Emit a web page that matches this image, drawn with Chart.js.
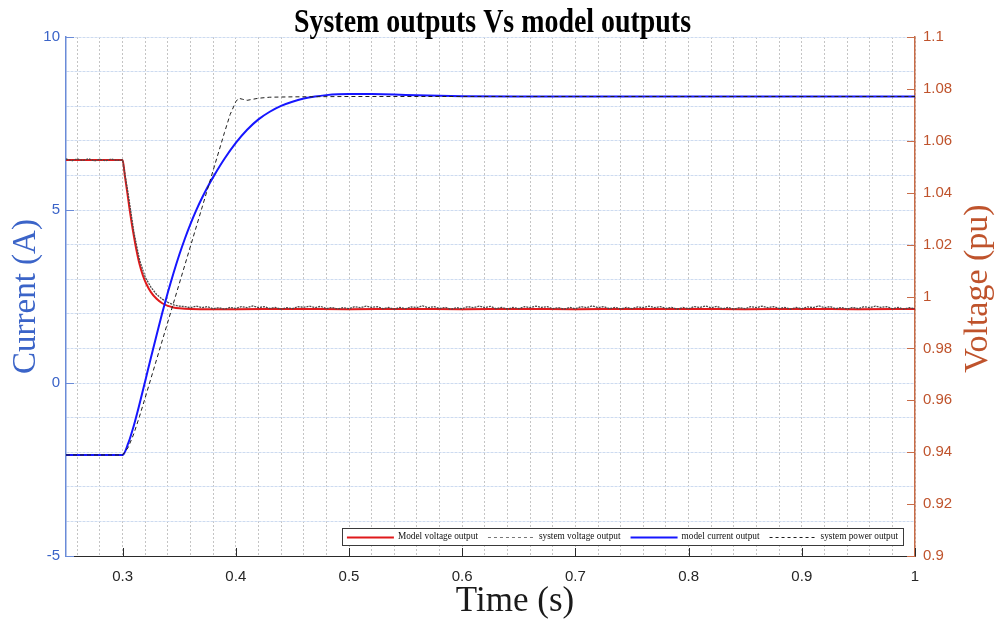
<!DOCTYPE html>
<html><head><meta charset="utf-8">
<script src="https://cdn.jsdelivr.net/npm/chart.js@4.4.0/dist/chart.umd.min.js"></script>
<style>html,body{margin:0;padding:0;background:#fff;overflow:hidden}canvas{display:block}</style>
</head><body>
<canvas id="c" width="995" height="619"></canvas>
<script>
// ---------- DATA ----------
const chartTitle = 'System outputs Vs model outputs';
const xTitle = 'Time (s)';
const yLeftTitle = 'Current (A)';
const yRightTitle = 'Voltage (pu)';
const seriesLabels = ['Model voltage output', 'system voltage output', 'model current output', 'system power output'];

// [time (s), voltage (pu)]
const modelVoltage = [
  [0.25,1.0526],[0.30,1.0526],[0.302,1.0465],[0.304,1.0405],[0.306,1.0342],[0.308,1.0284],[0.310,1.0232],
  [0.312,1.0184],[0.315,1.0124],[0.318,1.0080],[0.321,1.0048],[0.325,1.0017],[0.330,0.9991],[0.335,0.9974],
  [0.340,0.9964],[0.345,0.9958],[0.350,0.9955],[0.360,0.9952],[0.380,0.9951],[0.400,0.9951],[0.45,0.9952],
  [0.50,0.9951],[0.55,0.9952],[0.60,0.9951],[0.65,0.9952],[0.70,0.9951],[0.75,0.9952],[0.80,0.9952],
  [0.85,0.9951],[0.90,0.9952],[0.95,0.9951],[1.00,0.9952]
];

// [time (s), voltage (pu)]  (measured, noisy)
const systemVoltage = [
  [0.250,1.0530],[0.255,1.0523],[0.260,1.0530],[0.265,1.0524],[0.270,1.0531],[0.275,1.0522],[0.280,1.0529],
  [0.285,1.0523],[0.290,1.0530],[0.295,1.0524],[0.300,1.0527],[0.305,1.0392],[0.310,1.0247],[0.315,1.0140],
  [0.320,1.0074],[0.325,1.0036],[0.330,1.0008],[0.335,0.9990],[0.340,0.9977],[0.345,0.9968],[0.350,0.9963],
  [0.355,0.9961],[0.360,0.9957],[0.365,0.9963],[0.370,0.9957],[0.375,0.9961],[0.380,0.9953],[0.385,0.9957],
  [0.390,0.9951],[0.395,0.9958],[0.400,0.9954],[0.405,0.9961],[0.410,0.9957],[0.415,0.9964],[0.420,0.9957],
  [0.425,0.9961],[0.430,0.9954],[0.435,0.9958],[0.440,0.9951],[0.445,0.9957],[0.450,0.9953],[0.455,0.9961],
  [0.460,0.9958],[0.465,0.9963],[0.470,0.9957],[0.475,0.9962],[0.480,0.9953],[0.485,0.9958],[0.490,0.9952],
  [0.495,0.9957],[0.500,0.9953],[0.505,0.9961],[0.510,0.9957],[0.515,0.9963],[0.520,0.9958],[0.525,0.9961],
  [0.530,0.9953],[0.535,0.9958],[0.540,0.9951],[0.545,0.9958],[0.550,0.9953],[0.555,0.9960],[0.560,0.9957],
  [0.565,0.9964],[0.570,0.9957],[0.575,0.9961],[0.580,0.9954],[0.585,0.9958],[0.590,0.9951],[0.595,0.9957],
  [0.600,0.9953],[0.605,0.9961],[0.610,0.9957],[0.615,0.9963],[0.620,0.9957],[0.625,0.9962],[0.630,0.9953],
  [0.635,0.9958],[0.640,0.9952],[0.645,0.9958],[0.650,0.9953],[0.655,0.9961],[0.660,0.9957],[0.665,0.9963],
  [0.670,0.9958],[0.675,0.9961],[0.680,0.9953],[0.685,0.9957],[0.690,0.9951],[0.695,0.9958],[0.700,0.9953],
  [0.705,0.9961],[0.710,0.9957],[0.715,0.9964],[0.720,0.9957],[0.725,0.9961],[0.730,0.9953],[0.735,0.9958],
  [0.740,0.9952],[0.745,0.9958],[0.750,0.9953],[0.755,0.9960],[0.760,0.9957],[0.765,0.9963],[0.770,0.9957],
  [0.775,0.9961],[0.780,0.9954],[0.785,0.9958],[0.790,0.9951],[0.795,0.9958],[0.800,0.9953],[0.805,0.9961],
  [0.810,0.9958],[0.815,0.9963],[0.820,0.9957],[0.825,0.9962],[0.830,0.9953],[0.835,0.9958],[0.840,0.9951],
  [0.845,0.9957],[0.850,0.9953],[0.855,0.9961],[0.860,0.9957],[0.865,0.9963],[0.870,0.9957],[0.875,0.9961],
  [0.880,0.9954],[0.885,0.9958],[0.890,0.9951],[0.895,0.9958],[0.900,0.9953],[0.905,0.9960],[0.910,0.9957],
  [0.915,0.9964],[0.920,0.9957],[0.925,0.9961],[0.930,0.9953],[0.935,0.9958],[0.940,0.9952],[0.945,0.9958],
  [0.950,0.9953],[0.955,0.9961],[0.960,0.9957],[0.965,0.9963],[0.970,0.9958],[0.975,0.9961],[0.980,0.9953],
  [0.985,0.9958],[0.990,0.9951],[0.995,0.9957],[1.000,0.9953]
];

// [time (s), current (A)]
const modelCurrent = [
  [0.25,-2.08],[0.30,-2.08],[0.305,-1.74],[0.31,-1.22],[0.315,-0.60],[0.32,0.06],[0.325,0.73],[0.33,1.38],
  [0.335,2.02],[0.34,2.62],[0.345,3.18],[0.35,3.70],[0.355,4.17],[0.36,4.60],[0.365,4.99],[0.37,5.34],
  [0.375,5.66],[0.38,5.95],[0.39,6.48],[0.40,6.94],[0.41,7.32],[0.42,7.62],[0.43,7.84],[0.44,8.01],
  [0.45,8.13],[0.46,8.22],[0.47,8.28],[0.48,8.32],[0.49,8.345],[0.50,8.355],[0.52,8.35],[0.54,8.335],
  [0.56,8.315],[0.58,8.30],[0.60,8.29],[0.65,8.28],[0.70,8.28],[0.80,8.28],[0.90,8.28],[1.00,8.28]
];

// [time (s), current-axis value]
const systemPower = [
  [0.25,-2.08],[0.30,-2.08],[0.305,-1.86],[0.31,-1.46],[0.315,-0.96],[0.32,-0.42],[0.39,7.24],[0.395,7.76],
  [0.40,8.13],[0.4025,8.23],[0.406,8.20],[0.41,8.17],[0.415,8.20],[0.42,8.23],[0.43,8.26],[0.45,8.27],
  [0.50,8.28],[0.60,8.28],[0.70,8.28],[0.80,8.28],[0.90,8.28],[1.00,8.28]
];

// ticks
const xGridTicks = [0.26,0.28,0.30,0.32,0.34,0.36,0.38,0.40,0.42,0.44,0.46,0.48,0.50,0.52,0.54,0.56,0.58,0.60,
  0.62,0.64,0.66,0.68,0.70,0.72,0.74,0.76,0.78,0.80,0.82,0.84,0.86,0.88,0.90,0.92,0.94,0.96,0.98,1.00];
const xLabelTicks = [0.3,0.4,0.5,0.6,0.7,0.8,0.9,1.0];
const xLabels = ['0.3','0.4','0.5','0.6','0.7','0.8','0.9','1'];
const leftGridTicks = [-5,-4,-3,-2,-1,0,1,2,3,4,5,6,7,8,9,10];
const leftLabelTicks = [-5,0,5,10];
const leftLabels = ['-5','0','5','10'];
const rightTicks = [0.90,0.92,0.94,0.96,0.98,1.00,1.02,1.04,1.06,1.08,1.10];
const rightLabels = ['0.9','0.92','0.94','0.96','0.98','1','1.02','1.04','1.06','1.08','1.1'];

// ---------- STYLE ----------
const BLUE_TXT = '#3b64c8', BLUE_AX = '#6a8bd8';
const BROWN_TXT = '#bf532c', BROWN_AX = '#c86c48';
const near = (a, b) => Math.abs(a - b) < 1e-9;
const labelFor = (ticks, labels, v) => { const i = ticks.findIndex(t => near(t, v)); return i < 0 ? '' : labels[i]; };
const toXY = arr => arr.map(p => ({x: p[0], y: p[1]}));

const deco = {
  id: 'deco',
  afterDraw(chart) {
    const {ctx, chartArea: a, scales} = chart;
    const x = scales.x, y = scales.y, yR = scales.yR;
    ctx.save();
    ctx.lineWidth = 1;
    // inward tick marks
    ctx.strokeStyle = '#2a2a2a';
    xLabelTicks.forEach(v => {
      const px = Math.round(x.getPixelForValue(v)) + 0.5;
      ctx.beginPath(); ctx.moveTo(px, a.bottom); ctx.lineTo(px, a.bottom - 8); ctx.stroke();
    });
    ctx.strokeStyle = BLUE_AX;
    leftLabelTicks.forEach(v => {
      const py = Math.round(y.getPixelForValue(v)) + 0.5;
      ctx.beginPath(); ctx.moveTo(a.left, py); ctx.lineTo(a.left + 8, py); ctx.stroke();
    });
    ctx.strokeStyle = BROWN_AX;
    rightTicks.forEach(v => {
      const py = Math.round(yR.getPixelForValue(v)) + 0.5;
      ctx.beginPath(); ctx.moveTo(a.right, py); ctx.lineTo(a.right - 8, py); ctx.stroke();
    });

    // chart title (condensed bold serif)
    ctx.save();
    ctx.font = 'bold 33px "Liberation Serif"';
    ctx.fillStyle = '#000';
    ctx.textAlign = 'center';
    ctx.textBaseline = 'alphabetic';
    const tw = ctx.measureText(chartTitle).width;
    ctx.translate((a.left + a.right) / 2 + 2, 32);
    ctx.scale(397 / tw, 1);
    ctx.fillText(chartTitle, 0, 0);
    ctx.restore();

    // x axis title
    ctx.save();
    ctx.font = '35px "Liberation Serif"';
    ctx.fillStyle = '#1a1a1a';
    ctx.textAlign = 'center';
    ctx.textBaseline = 'alphabetic';
    ctx.fillText(xTitle, 515, 611);
    ctx.restore();

    // right axis title (reads bottom-to-top)
    ctx.save();
    ctx.font = '34px "Liberation Serif"';
    ctx.fillStyle = BROWN_TXT;
    ctx.textAlign = 'center';
    ctx.textBaseline = 'alphabetic';
    ctx.translate(987, (a.top + a.bottom) / 2 - 8);
    ctx.rotate(-Math.PI / 2);
    ctx.fillText(yRightTitle, 0, 0);
    ctx.restore();

    // legend box inside plot
    const ds = chart.data.datasets;
    const items = seriesLabels.map(l => ds.find(d => d.label === l));
    ctx.font = '9.3px "Liberation Serif"';
    ctx.textBaseline = 'middle';
    ctx.textAlign = 'left';
    const sampleLen = 47, gapIn = 4, gapOut = 10;
    let total = 5;
    items.forEach((d, i) => { total += sampleLen + gapIn + ctx.measureText(d.label).width + (i < items.length - 1 ? gapOut : 0); });
    total += 5;
    const bx1 = 903, bx0 = bx1 - total, by0 = 528, by1 = 545, cy = (by0 + by1) / 2;
    ctx.fillStyle = '#fff';
    ctx.fillRect(bx0, by0, total, by1 - by0);
    ctx.strokeStyle = '#3a3a3a';
    ctx.strokeRect(Math.round(bx0) + 0.5, by0 + 0.5, Math.round(total), by1 - by0);
    let cx = bx0 + 5;
    items.forEach(d => {
      ctx.save();
      ctx.strokeStyle = d.legendColor || d.borderColor;
      ctx.lineWidth = d.legendWidth || d.borderWidth;
      ctx.setLineDash(d.legendDash || []);
      ctx.beginPath(); ctx.moveTo(cx, Math.round(cy) + 0.5); ctx.lineTo(cx + sampleLen, Math.round(cy) + 0.5); ctx.stroke();
      ctx.restore();
      cx += sampleLen + gapIn;
      ctx.fillStyle = '#111';
      ctx.fillText(d.label, cx, cy + 0.5);
      cx += ctx.measureText(d.label).width + gapOut;
    });
    ctx.restore();
  }
};

new Chart(document.getElementById('c'), {
  type: 'line',
  data: {
    datasets: [
      {label: seriesLabels[3], data: toXY(systemPower), yAxisID: 'y', borderColor: '#1e1e1e', borderWidth: 1,
       borderDash: [4, 3], legendDash: [3, 3], pointRadius: 0, tension: 0, order: 0},
      {label: seriesLabels[2], data: toXY(modelCurrent), yAxisID: 'y', borderColor: '#1616ff', borderWidth: 2,
       pointRadius: 0, cubicInterpolationMode: 'monotone', order: 1},
      {label: seriesLabels[1], data: toXY(systemVoltage), yAxisID: 'yR', borderColor: '#4a4a4a', borderWidth: 1.3,
       borderDash: [2, 1], legendColor: '#777', legendWidth: 1, legendDash: [3, 3], pointRadius: 0, tension: 0, order: 2},
      {label: seriesLabels[0], data: toXY(modelVoltage), yAxisID: 'yR', borderColor: '#e0191b', borderWidth: 2,
       pointRadius: 0, cubicInterpolationMode: 'monotone', order: 3}
    ]
  },
  options: {
    responsive: false,
    animation: false,
    devicePixelRatio: 1,
    layout: {padding: {top: 37, left: 0, right: 0, bottom: 0}},
    plugins: {legend: {display: false}, tooltip: {enabled: false}, title: {display: false}},
    scales: {
      x: {
        type: 'linear', min: 0.25, max: 1.0,
        afterBuildTicks: s => { s.ticks = xGridTicks.map(v => ({value: v})); },
        afterFit: s => { s.height = 63; },
        ticks: {autoSkip: false, maxRotation: 0, minRotation: 0, padding: 12, color: '#262626',
                font: {family: 'Liberation Sans', size: 15},
                callback: v => labelFor(xLabelTicks, xLabels, v)},
        grid: {color: '#c4c4c4', lineWidth: 1, drawTicks: false},
        border: {color: '#2a2a2a', width: 1, dash: [2, 2]},
        title: {display: false}
      },
      y: {
        type: 'linear', position: 'left', min: -5, max: 10,
        afterBuildTicks: s => { s.ticks = leftGridTicks.map(v => ({value: v})); },
        afterFit: s => { s.width = 66; },
        ticks: {autoSkip: false, padding: 6, color: BLUE_TXT, font: {family: 'Liberation Sans', size: 15},
                callback: v => labelFor(leftLabelTicks, leftLabels, v)},
        grid: {color: '#cddbf0', lineWidth: 1, drawTicks: false},
        border: {color: BLUE_AX, width: 1.5, dash: [3, 1]},
        title: {display: true, text: yLeftTitle, color: BLUE_TXT,
                font: {family: 'Liberation Serif', size: 33}, padding: {top: 7, bottom: 0}}
      },
      yR: {
        type: 'linear', position: 'right', min: 0.9, max: 1.1,
        afterBuildTicks: s => { s.ticks = rightTicks.map(v => ({value: v})); },
        afterFit: s => { s.width = 80; },
        ticks: {autoSkip: false, padding: 8, color: BROWN_TXT, font: {family: 'Liberation Sans', size: 15},
                callback: v => labelFor(rightTicks, rightLabels, v)},
        grid: {drawOnChartArea: false, drawTicks: false},
        border: {color: BROWN_AX, width: 1.5}
      }
    }
  },
  plugins: [deco]
});
</script>
</body></html>
